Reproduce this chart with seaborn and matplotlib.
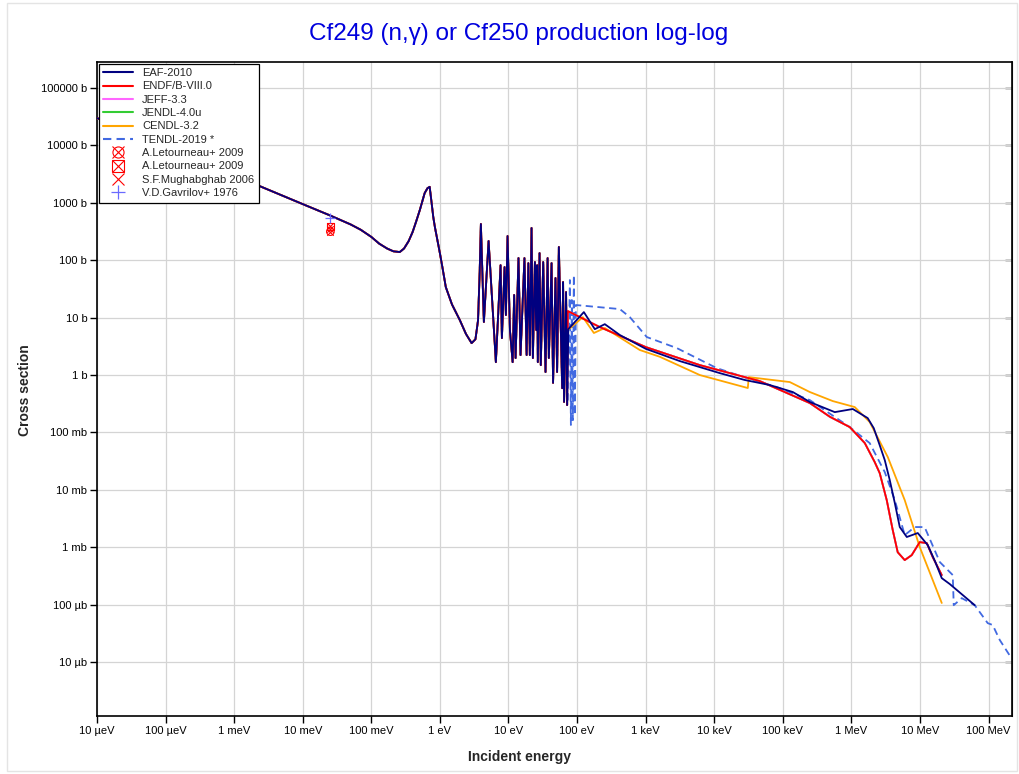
import matplotlib
matplotlib.use("Agg")
import matplotlib.pyplot as plt
import seaborn as sns
from matplotlib.lines import Line2D
from matplotlib.legend_handler import HandlerTuple
from matplotlib.patches import Rectangle

# Cf249 (n,g) cross section, energies in eV, cross sections in barns
# thermal range + 0.7 eV resonance, common to all evaluations
e_low = [1e-5, 1e-4, 1e-3, 1e-2, 0.0253, 0.05, 0.07, 0.1, 0.13, 0.17, 0.21, 0.26, 0.30,
         0.35, 0.40, 0.45, 0.51, 0.60, 0.66, 0.71, 0.75, 0.80, 0.845, 1.0, 1.1, 1.22,
         1.5, 1.95, 2.4, 2.9, 3.3, 3.6, 3.8]
xs_low = [30000, 9500, 3000, 950, 600, 420, 340, 255, 195, 160, 143, 139, 160,
          215, 310, 470, 750, 1480, 1800, 1900, 1100, 570, 380, 133, 70, 34,
          17, 9.1, 5.2, 3.6, 4.2, 9, 60]

# resolved resonance region (peaks / valleys)
e_res = [3.96, 4.38, 5.13, 6.55, 7.67, 8.02, 8.77, 9.17, 9.70, 10.5, 11.5, 12.1, 12.7,
         14.0, 15.0, 17.1, 18.4, 19.5, 20.5, 21.7, 22.7, 24.3, 25.4, 26.2, 26.8, 28.4,
         29.6, 32.1, 34.7, 37.2, 38.8, 42.5, 44.7, 48.5, 51.2, 54.3, 60.7, 62.6, 64.7,
         69.2, 71.7]
xs_res = [428, 8.4, 216, 1.68, 82, 4.4, 76, 11.1, 264, 6.1, 1.68, 24.8, 1.98,
          109, 2.23, 109, 2.23, 89, 2.23, 364, 1.98, 93, 6.1, 82, 1.68, 133,
          1.49, 93, 1.13, 109, 1.98, 89, 0.73, 49, 1.13, 170, 0.59, 41.7, 0.34,
          27.9, 0.30]

# high energy parts, one per library
e_eaf = [74.6, 125.7, 181.5, 254, 421, 1007, 3155, 12080, 27900, 64600, 1.40e5, 2.48e5,
         5.73e5, 1.05e6, 1.73e6, 2.12e6, 2.59e6, 3.07e6, 3.63e6, 4.30e6, 5.08e6, 6.43e6,
         9.29e6, 1.30e7, 1.67e7, 2.08e7, 2.72e7, 6.29e7]
xs_eaf = [6.3, 12.5, 6.3, 7.7, 4.98, 2.86, 1.75, 1.08, 0.82, 0.67, 0.506, 0.339,
          0.226, 0.256, 0.178, 0.119, 0.060, 0.033, 0.0148, 5.9e-3, 2.25e-3, 0.00151,
          0.00177, 0.00109, 5.6e-4, 2.9e-4, 2.29e-4, 9.8e-5]

e_endf = [73.5, 215, 1007, 6170, 46200, 2.48e5, 4.84e5, 9.48e5, 1.57e6, 2.19e6, 2.59e6,
          3.28e6, 4.01e6, 4.74e6, 6.0e6, 7.59e6, 9.93e6, 1.26e7, 1.54e7, 2.08e7]
xs_endf = [13.0, 6.85, 3.07, 1.49, 0.785, 0.325, 0.188, 0.124, 0.0653, 0.0305, 0.0196,
           6.63e-3, 2.0e-3, 8.2e-4, 5.98e-4, 7.3e-4, 1.23e-3, 1.18e-3, 6.7e-4, 3.28e-4]

e_cendl = [71.0, 121.6, 176, 254, 822, 1611, 6170, 30900, 31900, 1.265e5, 2.48e5, 5.36e5,
           1.12e6, 1.85e6, 3.40e6, 6.0e6, 9.93e6, 2.08e7]
xs_cendl = [5.85, 10.2, 5.4, 6.6, 2.73, 2.08, 1.0, 0.594, 0.92, 0.755, 0.506, 0.352,
            0.277, 0.152, 0.0372, 0.00663, 0.00101, 1.07e-4]

e_tendl = [73.5, 78.6, 81.3, 84.0, 86.9, 89.8, 92.9, 96.1, 421, 589, 1040, 2850, 10900,
           29900, 81800, 2.48e5, 9.48e5, 1.85e6, 3.07e6, 4.30e6, 6.0e6, 8.40e6, 1.17e7,
           1.95e7, 3.01e7, 3.11e7, 4.07e7, 6.29e7, 9.73e7, 1.15e8, 1.46e8, 2.11e8]
xs_tendl = [0.366, 45.2, 0.135, 20.3, 0.164, 55.2, 0.201, 16.6, 14.1, 10.2, 4.59, 2.95, 1.32,
            0.887, 0.618, 0.366, 0.124, 0.0653, 0.0204, 0.00663, 0.00163, 0.00225, 0.00225,
            5.52e-4, 3.28e-4, 9.8e-5, 1.30e-4, 9.8e-5, 4.77e-5, 4.42e-5, 2.42e-5, 1.22e-5]

# experimental points at thermal energy
exp_e = 0.0253
exp_letourneau_a = 315
exp_letourneau_b = 390
exp_mughabghab = 350
exp_gavrilov = 550

x_ticks = [1e-5, 1e-4, 1e-3, 1e-2, 1e-1, 1, 10, 100, 1e3, 1e4, 1e5, 1e6, 1e7, 1e8]
x_labels = ["10 µeV", "100 µeV", "1 meV", "10 meV", "100 meV", "1 eV", "10 eV", "100 eV",
            "1 keV", "10 keV", "100 keV", "1 MeV", "10 MeV", "100 MeV"]
y_ticks = [1e-5, 1e-4, 1e-3, 1e-2, 1e-1, 1, 10, 100, 1e3, 1e4, 1e5]
y_labels = ["10 µb", "100 µb", "1 mb", "10 mb", "100 mb", "1 b", "10 b", "100 b",
            "1000 b", "10000 b", "100000 b"]

sns.set_style("ticks")
plt.rcParams['font.family'] = ['Liberation Sans', 'DejaVu Sans']

fig = plt.figure(figsize=(10.2, 7.74), dpi=100)
ax = fig.add_axes([97 / 1020, 1 - 716 / 774, (1012 - 97) / 1020, (716 - 62) / 774])

common_e = e_low + e_res
common_xs = xs_low + xs_res

# (label, energies, xs, colour, dashed, zorder)
series = [
    ("TENDL-2019 *", common_e + e_tendl, common_xs + xs_tendl, "#4169e1", True, 2),
    ("JENDL-4.0u", common_e + e_endf, common_xs + xs_endf, "#33cc33", False, 3),
    ("JEFF-3.3", common_e + e_endf, common_xs + xs_endf, "#ff66ff", False, 4),
    ("CENDL-3.2", common_e + e_cendl, common_xs + xs_cendl, "#ffa500", False, 5),
    ("ENDF/B-VIII.0", common_e + e_endf, common_xs + xs_endf, "#ff0000", False, 6),
    ("EAF-2010", common_e + e_eaf, common_xs + xs_eaf, "#000080", False, 7),
]

handles = {}
for label, ee, xx, col, dashed, z in series:
    ls = (0, (4, 2.5)) if dashed else "-"
    sns.lineplot(x=ee, y=xx, ax=ax, color=col, linewidth=1.3, linestyle=ls,
                 estimator=None, sort=False, legend=False, zorder=z)
    handles[label] = Line2D([], [], color=col, linewidth=1.5, linestyle=ls)

# experimental data
ax.scatter([exp_e], [exp_letourneau_a], s=30, facecolors="none", edgecolors="red", lw=0.8, zorder=8)
ax.scatter([exp_e], [exp_letourneau_a], s=22, marker="x", color="red", lw=0.8, zorder=8)
ax.scatter([exp_e], [exp_letourneau_b], s=30, marker="s", facecolors="none", edgecolors="red", lw=0.8, zorder=8)
ax.scatter([exp_e], [exp_letourneau_b], s=22, marker="x", color="red", lw=0.8, zorder=8)
ax.scatter([exp_e], [exp_mughabghab], s=22, marker="x", color="red", lw=0.8, zorder=8)
ax.scatter([exp_e], [exp_gavrilov], s=45, marker="+", color="#6a6aff", lw=0.9, zorder=8)

ax.set_xscale("log")
ax.set_yscale("log")
ax.set_xlim(1e-5, 2.2e8)
ax.set_ylim(1.15e-6, 2.84e5)
ax.set_xticks(x_ticks)
ax.set_xticklabels(x_labels)
ax.set_yticks(y_ticks)
ax.set_yticklabels(y_labels)
ax.minorticks_off()
ax.tick_params(axis="both", which="major", labelsize=8, length=5, width=1, pad=2,
               direction="out", color="black", labelcolor="black")
ax.grid(True, which="major", color="#d4d4d4", linewidth=0.9)
ax.set_axisbelow(True)
for sp in ax.spines.values():
    sp.set_color("black")
    sp.set_linewidth(1.2)

sec = ax.secondary_yaxis("right")
sec.set_yticks(y_ticks)
sec.set_yticklabels([])
sec.tick_params(direction="in", length=5, width=1, color="black")
sec.minorticks_off()

ax.set_xlabel("")
ax.set_ylabel("")
fig.text(520 / 1020, 1 - 757 / 774, "Incident energy", ha="center", va="center",
         fontsize=10, fontweight="bold")
fig.text(25 / 1020, 1 - 390 / 774, "Cross section", ha="center", va="center",
         rotation=90, fontsize=10, fontweight="bold")
fig.text(519 / 1020, 1 - 34 / 774, "Cf249 (n,\u03b3) or Cf250 production log-log",
         ha="center", va="center", fontsize=17.5, color="#0000dd")

# legend
mk = dict(linestyle="none", color="red", markersize=8, markeredgewidth=0.8)
h_circ = (Line2D([], [], marker="o", markerfacecolor="none", **mk),
          Line2D([], [], marker="x", **mk))
h_sq = (Line2D([], [], marker="s", markerfacecolor="none", **mk),
        Line2D([], [], marker="x", **mk))
h_x = Line2D([], [], marker="x", **mk)
h_plus = Line2D([], [], marker="+", linestyle="none", color="#6a6aff", markersize=10, markeredgewidth=0.9)

order = ["EAF-2010", "ENDF/B-VIII.0", "JEFF-3.3", "JENDL-4.0u", "CENDL-3.2", "TENDL-2019 *"]
leg_handles = [handles[o] for o in order] + [h_circ, h_sq, h_x, h_plus]
leg_labels = order + ["A.Letourneau+ 2009", "A.Letourneau+ 2009", "S.F.Mughabghab 2006",
                      "V.D.Gavrilov+ 1976"]
leg = ax.legend(leg_handles, leg_labels, loc="upper left", fontsize=8, frameon=True,
                fancybox=False, edgecolor="black", framealpha=1, borderaxespad=0.15,
                handlelength=2.7, handletextpad=0.8, labelspacing=0.3, borderpad=0.4,
                handler_map={tuple: HandlerTuple(ndivide=1, pad=0)})
leg.get_frame().set_linewidth(0.9)
leg.set_zorder(20)

fig.add_artist(Rectangle((7 / 1020, 3 / 774), 1010 / 1020, 768 / 774, transform=fig.transFigure,
                         fill=False, edgecolor="#e4e4e4", linewidth=1))

fig.savefig("out.png", dpi=100)
